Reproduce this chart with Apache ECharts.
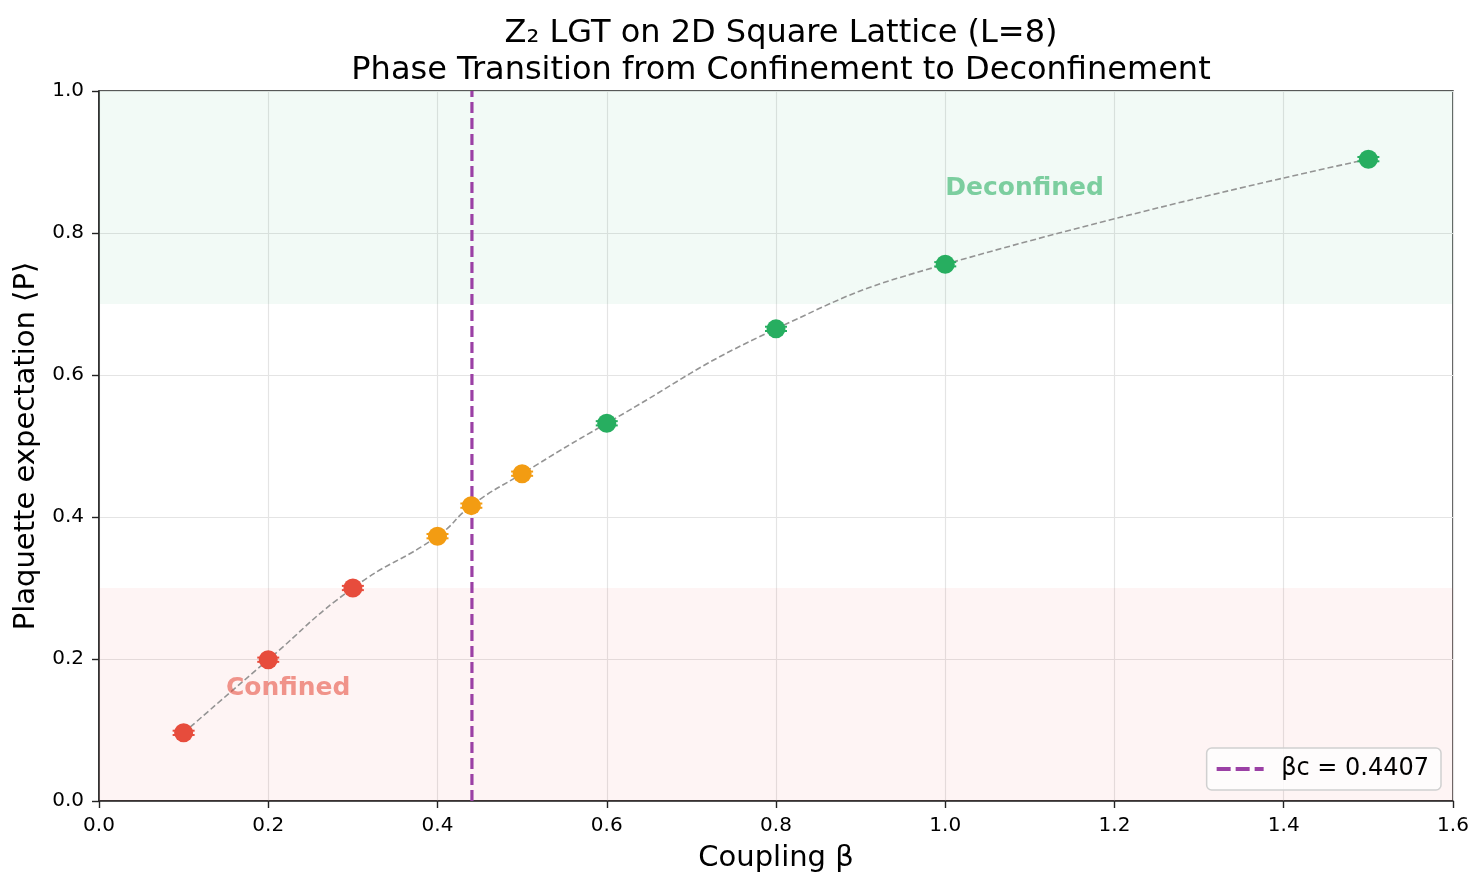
<!DOCTYPE html>
<html>
<head>
<meta charset="utf-8">
<script src="https://cdn.jsdelivr.net/npm/echarts@6/dist/echarts.min.js"></script>
<style>
  html, body { margin: 0; padding: 0; background: #fff; }
  #chart { width: 1484px; height: 888px; }
</style>
</head>
<body>
<div id="chart"></div>
<script>
// 数据：耦合常数 β 与 plaquette 期望值
const betaVals = [0.1, 0.2, 0.3, 0.4, 0.44, 0.5, 0.6, 0.8, 1.0, 1.5];
const plaqVals = [0.096, 0.199, 0.300, 0.373, 0.416, 0.461, 0.532, 0.665, 0.756, 0.904];
const plaqErr = [0.003, 0.003, 0.003, 0.003, 0.003, 0.003, 0.003, 0.003, 0.003, 0.003];
const phaseOf = ['confined', 'confined', 'confined', 'critical', 'critical', 'critical', 'deconfined', 'deconfined', 'deconfined', 'deconfined'];
const betaC = 0.4407;
const confinedBand = [0, 0.3];
const deconfinedBand = [0.7, 1.0];

const phaseColor = { confined: '#e74c3c', critical: '#f39c12', deconfined: '#27ae60' };
const font = 'DejaVu Sans';

const chart = echarts.init(document.getElementById('chart'));

const pts = betaVals.map((b, i) => [b, plaqVals[i]]);
const errData = betaVals.map((b, i) => [b, plaqVals[i] - plaqErr[i], plaqVals[i] + plaqErr[i]]);

// 刻度标签样式（rich 方式，保证字号生效）
const tickLabel = {
    show: true, margin: 15,
    formatter: v => '{t|' + v.toFixed(1) + '}',
    rich: { t: { fontFamily: font, fontSize: 20, color: '#000' } }
};

chart.setOption({
    animation: false,
    title: {
        text: 'Z\u2082 LGT on 2D Square Lattice (L=8)\nPhase Transition from Confinement to Deconfinement',
        left: 776, top: 10, textAlign: 'center',
        textStyle: { fontFamily: font, fontSize: 32, fontWeight: 'normal', color: '#000', lineHeight: 37 }
    },
    grid: { left: 99, right: 31, top: 91, bottom: 87, show: true, borderColor: '#222', borderWidth: 1.5 },
    legend: {
        right: 43, bottom: 98,
        data: [{ name: 'βc = 0.4407', icon: 'path://M0,0h14v4h-14z M19,0h14v4h-14z M38,0h9v4h-9z' }],
        itemWidth: 48, itemHeight: 4, itemGap: 10,
        padding: [9, 12, 9, 10],
        backgroundColor: 'rgba(255,255,255,0.8)',
        borderColor: '#d0d0d0', borderWidth: 1.5, borderRadius: 5,
        textStyle: { fontFamily: font, fontSize: 24, color: '#000', padding: [0, 0, 0, 12] }
    },
    xAxis: {
        type: 'value', min: 0, max: 1.6, interval: 0.2,
        name: 'Coupling β', nameLocation: 'middle', nameGap: 43,
        nameTextStyle: { fontFamily: font, fontSize: 29, color: '#000' },
        axisLine: { show: true, lineStyle: { color: '#222', width: 1.5 } },
        axisTick: { show: true, length: 7, lineStyle: { color: '#222', width: 1.4 } },
        axisLabel: tickLabel,
        splitLine: { show: true, lineStyle: { color: '#e4e4e4', width: 1.2 } }
    },
    yAxis: {
        type: 'value', min: 0, max: 1, interval: 0.2,
        name: 'Plaquette expectation ⟨P⟩', nameLocation: 'middle', nameGap: 57, nameRotate: 90,
        nameTextStyle: { fontFamily: font, fontSize: 29, color: '#000' },
        axisLine: { show: true, lineStyle: { color: '#222', width: 1.5 } },
        axisTick: { show: true, length: 7, lineStyle: { color: '#222', width: 1.4 } },
        axisLabel: tickLabel,
        splitLine: { show: true, lineStyle: { color: '#e4e4e4', width: 1.2 } }
    },
    series: [
        {
            // 相区背景
            type: 'line', data: [], silent: true,
            markArea: {
                silent: true,
                data: [
                    [{ yAxis: confinedBand[0], itemStyle: { color: 'rgba(231,76,60,0.06)' } }, { yAxis: confinedBand[1] }],
                    [{ yAxis: deconfinedBand[0], itemStyle: { color: 'rgba(39,174,96,0.06)' } }, { yAxis: deconfinedBand[1] }]
                ]
            }
        },
        {
            // 连接曲线
            type: 'line', data: pts, smooth: 0.5, symbol: 'none', z: 2,
            lineStyle: { color: '#949494', width: 1.6, type: [6, 3] }
        },
        {
            name: 'βc = 0.4407',
            type: 'line', data: [[betaC, 0], [betaC, 1]], symbol: 'none', z: 3,
            itemStyle: { color: '#9b40a5' },
            lineStyle: { color: '#9b40a5', width: 3.2, type: [11, 5] }
        },
        {
            // 误差棒
            type: 'custom', z: 4,
            data: errData,
            renderItem: (params, api) => {
                const x = api.value(0);
                const lo = api.coord([x, api.value(1)]);
                const hi = api.coord([x, api.value(2)]);
                const hw = 11;
                const st = { stroke: phaseColor[phaseOf[params.dataIndex]], lineWidth: 2 };
                return {
                    type: 'group', children: [
                        { type: 'line', shape: { x1: lo[0], y1: lo[1], x2: hi[0], y2: hi[1] }, style: st },
                        { type: 'line', shape: { x1: lo[0] - hw, y1: lo[1], x2: lo[0] + hw, y2: lo[1] }, style: st },
                        { type: 'line', shape: { x1: hi[0] - hw, y1: hi[1], x2: hi[0] + hw, y2: hi[1] }, style: st }
                    ]
                };
            }
        },
        {
            type: 'scatter', data: pts, symbolSize: 19, z: 5,
            itemStyle: { color: p => phaseColor[phaseOf[p.dataIndex]], opacity: 1 }
        },
        {
            // 相区标注
            type: 'scatter', symbolSize: 0, silent: true, z: 6,
            data: [
                { value: [1.0, 0.862], label: { formatter: 'Deconfined', color: 'rgba(39,174,96,0.72)' } },
                { value: [0.15, 0.159], label: { formatter: 'Confined', color: 'rgba(231,76,60,0.72)' } }
            ],
            label: { show: true, position: 'right', distance: 0, fontFamily: font, fontSize: 25, fontWeight: 'bold' }
        }
    ]
});
</script>
</body>
</html>
